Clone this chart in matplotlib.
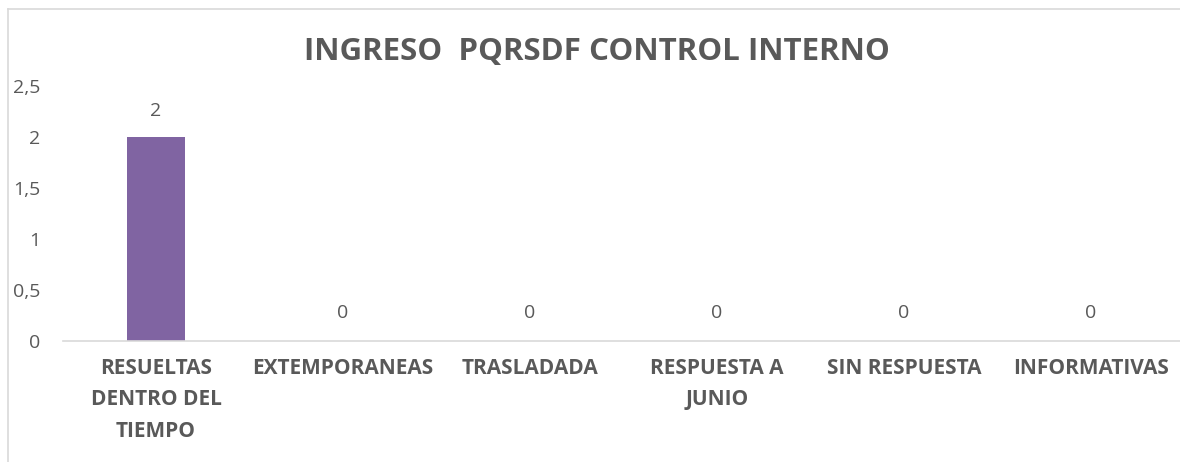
import matplotlib
matplotlib.use('Agg')
import matplotlib.pyplot as plt
from matplotlib.lines import Line2D

categories = ["RESUELTAS\nDENTRO DEL\nTIEMPO", "EXTEMPORANEAS", "TRASLADADA",
              "RESPUESTA A\nJUNIO", "SIN RESPUESTA", "INFORMATIVAS"]
values = [2, 0, 0, 0, 0, 0]
yticks = [0, 0.5, 1, 1.5, 2, 2.5]
ytick_labels = ["0", "0,5", "1", "1,5", "2", "2,5"]

BAR_COLOR = "#8064A2"
TEXT_COLOR = "#595959"
plt.rcParams['font.family'] = ['Open Sans', 'DejaVu Sans']

fig = plt.figure(figsize=(11.8, 4.62), dpi=100)
# chart area border (light grey frame, cut off at right/bottom)
bx, by = 7.5 / 1180, 1 - 8.5 / 462
fig.add_artist(Line2D([bx, bx], [0, by], transform=fig.transFigure,
                      color="#d9d9d9", linewidth=1.2))
fig.add_artist(Line2D([bx, 1], [by, by], transform=fig.transFigure,
                      color="#d9d9d9", linewidth=1.2))

ax = fig.add_axes([62.5 / 1180, 1 - 341 / 462, 1122 / 1180, 255 / 462])
x = range(len(categories))
ax.bar(x, values, width=0.315, color=BAR_COLOR)
for xi, v in zip(x, values):
    ax.annotate(str(v), (xi, v), xytext=(0, 12.5 if v else 13.5),
                textcoords="offset points",
                ha="center", va="bottom", fontsize=14, color=TEXT_COLOR)

ax.set_xlim(-0.5, len(categories) - 0.5)
ax.set_ylim(0, 2.5)
ax.set_yticks(yticks)
ax.set_yticklabels(ytick_labels, fontsize=14, color=TEXT_COLOR)
ax.set_xticks(list(x))
ax.set_xticklabels(categories, fontsize=15, fontweight="bold", color=TEXT_COLOR,
                   linespacing=1.63)
ax.tick_params(axis="y", length=0, pad=16)
ax.tick_params(axis="x", length=0, pad=12.5)
for s in ["top", "right", "left"]:
    ax.spines[s].set_visible(False)
ax.spines["bottom"].set_color("#d9d9d9")
ax.spines["bottom"].set_linewidth(1.2)

fig.text(597 / 1180, 1 - 52 / 462, "INGRESO  PQRSDF CONTROL INTERNO",
         ha="center", va="center", fontsize=22.5, fontweight="bold", color=TEXT_COLOR)

fig.savefig("out.png", dpi=100)
